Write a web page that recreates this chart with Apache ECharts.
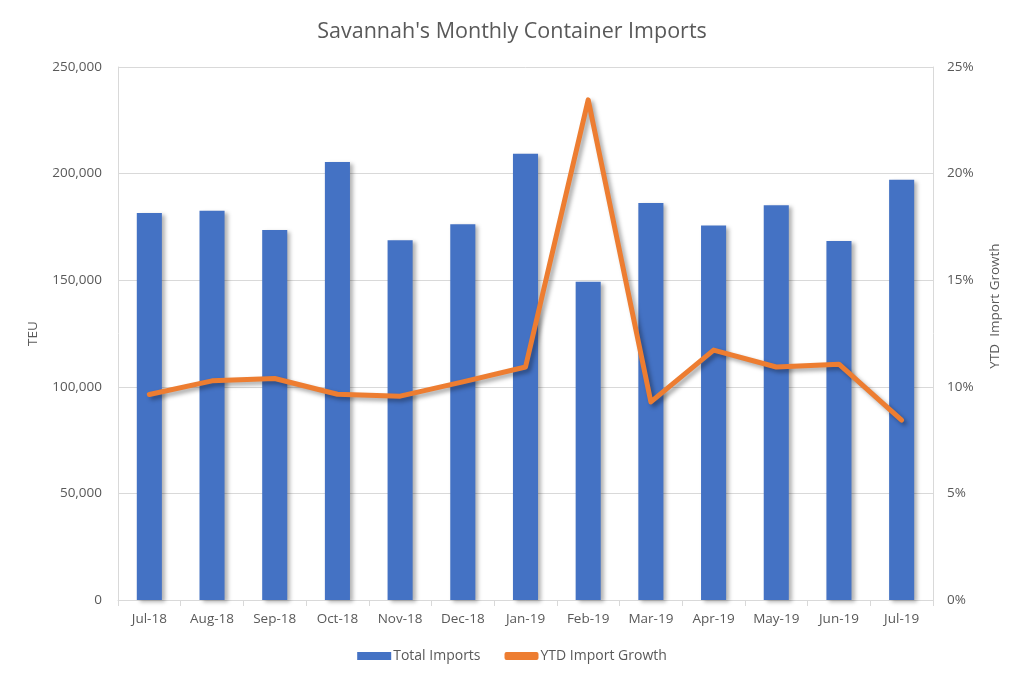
<!DOCTYPE html>
<html>
<head>
<meta charset="utf-8">
<script src="https://cdn.jsdelivr.net/npm/echarts@6/dist/echarts.min.js"></script>
<style>html,body{margin:0;padding:0;background:#fff}#c{width:1024px;height:682px}</style>
</head>
<body>
<div id="c"></div>
<script>
const categories = ['Jul-18','Aug-18','Sep-18','Oct-18','Nov-18','Dec-18','Jan-19','Feb-19','Mar-19','Apr-19','May-19','Jun-19','Jul-19'];
const totalImports = [181500, 182600, 173500, 205400, 168700, 176300, 209300, 149300, 186200, 175600, 185100, 168400, 197100];
const ytdGrowth = [9.64, 10.28, 10.39, 9.65, 9.56, 10.23, 10.93, 23.46, 9.29, 11.72, 10.93, 11.06, 8.44];
const leftTicks = { min: 0, max: 250000, interval: 50000 };
const rightTicks = { min: 0, max: 25, interval: 5 };

const FONT = '"Open Sans", "Noto Sans", sans-serif';
const TXT = '#595959';
const GRID = '#d9d9d9';

const chart = echarts.init(document.getElementById('c'));
chart.setOption({
  backgroundColor: '#fff',
  animation: false,
  textStyle: { fontFamily: FONT },
  title: {
    text: "Savannah's Monthly Container Imports",
    left: 'center', top: 16,
    textStyle: { fontFamily: FONT, fontSize: 21.5, fontWeight: 'normal', color: TXT }
  },
  legend: {
    bottom: 14, left: 'center',
    itemWidth: 34, itemHeight: 8, itemGap: 24,
    textStyle: { fontFamily: FONT, fontSize: 14, color: TXT, padding: [0, 0, 0, -3] },
    data: [
      { name: 'Total Imports', icon: 'rect' },
      { name: 'YTD Import Growth', icon: 'roundRect', itemStyle: { color: '#ED7D31' } }
    ]
  },
  grid: { left: 118, right: 91, top: 67, bottom: 82, containLabel: false },
  xAxis: {
    type: 'category',
    data: categories,
    axisLine: { lineStyle: { color: GRID, width: 1 } },
    axisTick: { show: true, length: 6, lineStyle: { color: GRID } },
    axisLabel: { color: TXT, fontSize: 13.5, fontFamily: FONT, margin: 12 }
  },
  yAxis: [
    {
      type: 'value', min: leftTicks.min, max: leftTicks.max, interval: leftTicks.interval,
      name: 'TEU', nameLocation: 'middle', nameGap: 78, nameRotate: 90,
      nameTextStyle: { color: TXT, fontSize: 13.5, fontFamily: FONT },
      axisLine: { show: true, lineStyle: { color: GRID } },
      axisTick: { show: false },
      splitLine: { lineStyle: { color: GRID, width: 1 } },
      axisLabel: { color: TXT, fontSize: 13.5, fontFamily: FONT, margin: 16,
        formatter: v => v.toLocaleString('en-US') }
    },
    {
      type: 'value', min: rightTicks.min, max: rightTicks.max, interval: rightTicks.interval,
      name: 'YTD  Import Growth', nameLocation: 'middle', nameGap: 55, nameRotate: 90,
      nameTextStyle: { color: TXT, fontSize: 13.5, fontFamily: FONT, padding: [0, 0, 0, 55] },
      axisLine: { show: true, lineStyle: { color: GRID } },
      axisTick: { show: false },
      splitLine: { show: false },
      axisLabel: { color: TXT, fontSize: 13.5, fontFamily: FONT, margin: 14,
        formatter: v => v + '%' }
    }
  ],
  series: [
    {
      name: 'Total Imports', type: 'bar', yAxisIndex: 0,
      data: totalImports, barWidth: '40%',
      itemStyle: { color: '#4472C4', shadowColor: 'rgba(0,0,0,0.3)', shadowBlur: 4, shadowOffsetX: 3, shadowOffsetY: 2 }
    },
    {
      name: 'YTD Import Growth', type: 'line', yAxisIndex: 1,
      data: ytdGrowth, symbol: 'none', smooth: false,
      lineStyle: { color: '#ED7D31', width: 5, cap: 'round', join: 'round',
        shadowColor: 'rgba(0,0,0,0.35)', shadowBlur: 4, shadowOffsetX: 3, shadowOffsetY: 3 },
      itemStyle: { color: '#ED7D31' }
    }
  ]
});
</script>
</body>
</html>
